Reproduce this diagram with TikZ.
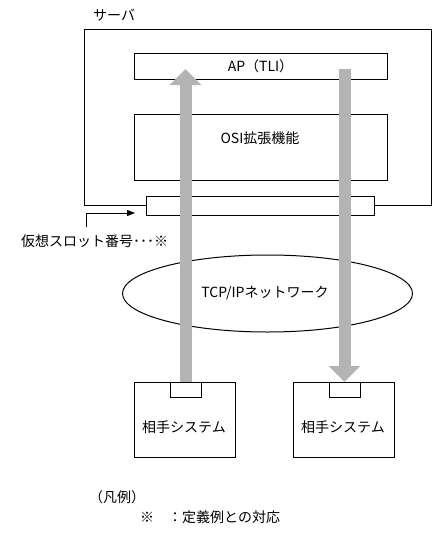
\documentclass[tikz,border=0pt]{standalone}
\usepackage{fontspec}
\setmainfont{Noto Sans CJK JP}
\usetikzlibrary{arrows.meta,shapes.geometric}
\definecolor{arrowgray}{RGB}{180,180,180}
\begin{document}
\begin{tikzpicture}[x=1pt,y=-1pt,
  box/.style={draw=black,line width=1pt,inner sep=0pt,outer sep=0pt,rectangle,anchor=north west},
  lbl/.style={font=\fontsize{14pt}{16pt}\selectfont,inner sep=0pt},
  flow/.style={draw=arrowgray,line width=12pt,-{Triangle[length=16pt,width=31pt]}}]
\useasboundingbox (0,0) rectangle (433,533);
% server and internal boxes
\node[box,minimum width=347pt,minimum height=176pt] (server) at (84,29) {};
\node[box,minimum width=253pt,minimum height=26pt] (ap) at (134,53) {};
\node[box,minimum width=253pt,minimum height=66pt] (osi) at (134,114) {};
\node[box,fill=white,minimum width=228pt,minimum height=19pt] (slot) at (146,196) {};
% network
\node[ellipse,draw=black,line width=1pt,inner sep=0pt,minimum width=290pt,minimum height=77pt] (net) at (267.5,293.5) {};
% partner systems
\node[box,minimum width=101pt,minimum height=75pt] (lsys) at (134,382) {};
\node[box,minimum width=31pt,minimum height=15pt] (lsock) at (170,382) {};
\node[box,minimum width=101pt,minimum height=75pt] (rsys) at (293,382) {};
\node[box,minimum width=31pt,minimum height=15pt] (rsock) at (329,382) {};
% labels
\node[lbl,anchor=west] (srvlbl) at (93,15) {サーバ};
\node[lbl] (aplbl) at (260.5,66) {AP（TLI）};
\node[lbl] (osilbl) at (260,138) {OSI拡張機能};
\node[lbl] (netlbl) at (265,293) {TCP/IPネットワーク};
\node[lbl] (lsyslbl) at (184,427) {相手システム};
\node[lbl] (rsyslbl) at (343,427) {相手システム};
\node[lbl,anchor=west] (slotlbl) at (21,241) {仮想スロット番号･･･※};
\node[lbl,anchor=west] (legend) at (89,497) {（凡例）};
\node[lbl,anchor=west] (legend2) at (140,517) {※　：定義例との対応};
% slot pointer
\coordinate (slotnote) at (86,227);
\draw[line width=1pt,-{Triangle[length=8pt,width=6pt]}] (slotnote) |- ([xshift=-11pt,yshift=2pt]slot.south west);
% data flow arrows
\coordinate (upTip) at (185.5,69);
\coordinate (downStart) at (344.5,69);
\draw[flow] (lsock.north) -- (upTip);
\draw[flow] (downStart) -- (rsock.north);
\end{tikzpicture}
\end{document}
